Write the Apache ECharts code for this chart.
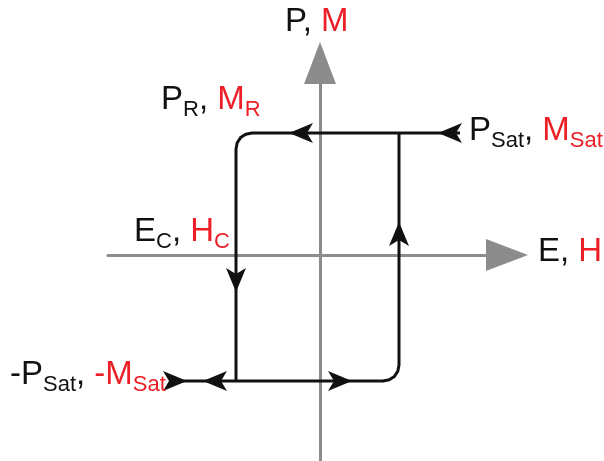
<!DOCTYPE html>
<html>
<head>
<meta charset="utf-8">
<script src="https://cdn.jsdelivr.net/npm/echarts@6/dist/echarts.min.js"></script>
<style>
  html, body { margin: 0; padding: 0; background: #fff; }
  #chart { width: 604px; height: 461px; }
</style>
</head>
<body>
<div id="chart"></div>
<script>
// hysteresis loop, data units (E/H along x, P/M along y)
const axisRangeX = [-10.6, 9.35]
const axisRangeY = [-10.3, 9.6]

// descending branch: from +Psat going left, round corner, down at -Ec
const branchDown = [
  [7.0, 6.1], [-3.4, 6.1], [-3.71, 6.04], [-3.97, 5.87], [-4.14, 5.61], [-4.2, 5.3], [-4.2, -6.3]
]
// ascending branch: from -Psat going right, round corner, up at +Ec
const branchUp = [
  [-7.55, -6.3], [3.15, -6.3], [3.46, -6.24], [3.72, -6.07], [3.89, -5.81], [3.95, -5.5], [3.95, 6.1]
]

// arrow tips along the loop: [x, y, direction]
const arrowHeads = [
  [5.9, 6.1, 'left'],
  [-1.55, 6.1, 'left'],
  [-4.2, -1.85, 'down'],
  [-5.85, -6.3, 'left'],
  [-6.65, -6.3, 'right'],
  [1.6, -6.3, 'right'],
  [3.95, 1.65, 'up']
]

const BLACK = '#111'
const RED = '#ec1f26'
const GRAY = '#8c8c8c'
const FONT = '"Liberation Sans", Arial, sans-serif'

const dirAngle = { up: 0, left: 90, down: 180, right: -90 }

const rich = {
  b: { fontSize: 33, lineHeight: 33, fill: BLACK, fontFamily: FONT, verticalAlign: 'top' },
  r: { fontSize: 33, lineHeight: 33, fill: RED, fontFamily: FONT, verticalAlign: 'top' },
  bs: { fontSize: 22, lineHeight: 22, fill: BLACK, fontFamily: FONT, verticalAlign: 'top', padding: [16, 0, 0, 0] },
  rs: { fontSize: 22, lineHeight: 22, fill: RED, fontFamily: FONT, verticalAlign: 'top', padding: [16, 0, 0, 0] }
}

function label(left, top, text) {
  return { type: 'text', left: left, top: top, z: 10, style: { text: text, rich: rich } }
}

const axisCommon = {
  type: 'value',
  axisLine: {
    onZero: true,
    symbol: ['none', 'triangle'],
    symbolSize: [32, 42],
    lineStyle: { color: GRAY, width: 3 }
  },
  axisTick: { show: false },
  axisLabel: { show: false },
  splitLine: { show: false }
}

const chart = echarts.init(document.getElementById('chart'))
const option = {
  animation: false,
  grid: { left: 108, right: 97, top: 63, bottom: 0 },
  xAxis: Object.assign({}, axisCommon, { min: axisRangeX[0], max: axisRangeX[1] }),
  yAxis: Object.assign({}, axisCommon, { min: axisRangeY[0], max: axisRangeY[1] }),
  series: [
    {
      type: 'line',
      data: branchDown,
      symbol: 'none',
      z: 3,
      lineStyle: { color: BLACK, width: 3, join: 'round' }
    },
    {
      type: 'line',
      data: branchUp,
      symbol: 'none',
      z: 3,
      lineStyle: { color: BLACK, width: 3, join: 'round' }
    },
    {
      type: 'scatter',
      data: arrowHeads,
      symbol: 'arrow',
      symbolSize: [15, 24],
      symbolRotate: function (val) { return dirAngle[val[2]] },
      z: 4,
      itemStyle: { color: BLACK, opacity: 1 }
    }
  ],
  graphic: [
    label(285, 5, '{b|P, }{r|M}'),
    label(161, 83, '{b|P}{bs|R}{b|, }{r|M}{rs|R}'),
    label(469, 114, '{b|P}{bs|Sat}{b|, }{r|M}{rs|Sat}'),
    label(538, 235, '{b|E, }{r|H}'),
    label(134, 215, '{b|E}{bs|C}{b|, }{r|H}{rs|C}'),
    label(10, 358, '{b|-P}{bs|Sat}{b|, }{r|-M}{rs|Sat}')
  ]
}
chart.setOption(option)
</script>
</body>
</html>
